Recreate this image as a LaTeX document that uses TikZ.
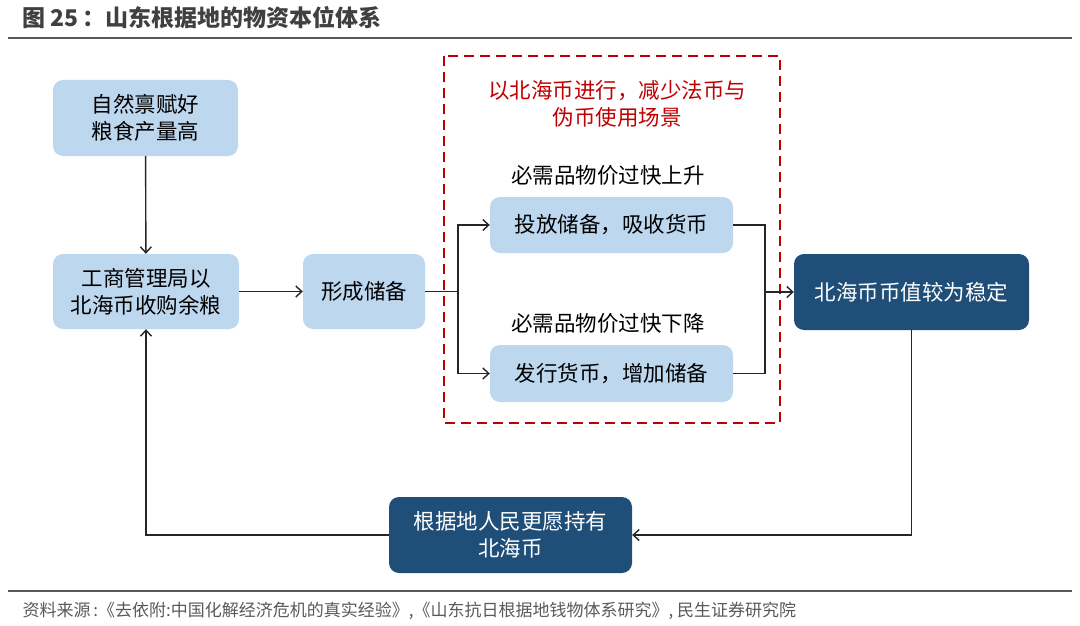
\documentclass[tikz,border=0pt]{standalone}
\usepackage{fontspec}
\setmainfont{Noto Sans CJK SC}
\usetikzlibrary{arrows.meta}

\definecolor{lightblue}{HTML}{BDD7EE}
\definecolor{darkblue}{HTML}{1F4E79}
\definecolor{framered}{HTML}{C00000}
\definecolor{linegray}{HTML}{262626}
\definecolor{titlegray}{HTML}{404040}
\definecolor{notegray}{HTML}{595959}

\begin{document}
\begin{tikzpicture}[x=1pt,y=-1pt,
    boxtext/.style={font=\fontsize{21.5}{27}\selectfont, align=center},
    lightbox/.style={boxtext, fill=lightblue, rounded corners=10pt, inner sep=0pt, text=black},
    darkbox/.style={boxtext, fill=darkblue, rounded corners=10pt, inner sep=0pt, text=white},
    link/.style={draw=linegray, line width=1.4pt},
    arrow/.style={link, -{Straight Barb[length=6pt,width=11pt]}}]
    \useasboundingbox (0,0) rectangle (1080,626);
    % title and rules
    \node[anchor=west, text=titlegray, font=\fontsize{23}{26}\selectfont\bfseries] (title) at (19,18) {图 25\,：山东根据地的物资本位体系};
    \draw[notegray, line width=2.5pt] (8,38) -- (1072,38);
    \draw[notegray, line width=2.5pt] (8,591) -- (1072,591);
    \node[anchor=west, text=notegray, font=\fontsize{17}{20}\selectfont] (source) at (19,611) {资料来源\,:《去依附:中国化解经济危机的真实经验》,《山东抗日根据地钱物体系研究》, 民生证券研究院};
    % red frame
    \draw[framered, line width=2.8pt, dash pattern=on 10pt off 6pt] (444,56) rectangle (780,423);
    \node[boxtext, text=framered] (notice) at (617,103.5) {以北海币进行，减少法币与\\伪币使用场景};
    % boxes
    \node[lightbox, minimum width=185pt, minimum height=76pt] (nature) at (145.5,118) {自然禀赋好\\粮食产量高};
    \node[lightbox, minimum width=186pt, minimum height=75pt] (buy) at (146,291.5) {工商管理局以\\北海币收购余粮};
    \node[lightbox, minimum width=122pt, minimum height=75pt] (store) at (364,291.5) {形成储备};
    \node[boxtext] (rise) at (608,175) {必需品物价过快上升};
    \node[lightbox, minimum width=243pt, minimum height=56pt] (release) at (611.5,225) {投放储备，吸收货币};
    \node[boxtext] (fall) at (608,323) {必需品物价过快下降};
    \node[lightbox, minimum width=243pt, minimum height=57pt] (issue) at (611.5,373.5) {发行货币，增加储备};
    \node[darkbox, minimum width=235pt, minimum height=76pt] (stable) at (911.5,292) {北海币币值较为稳定};
    \node[darkbox, minimum width=243pt, minimum height=76pt] (prefer) at (510.5,535) {根据地人民更愿持有\\北海币};
    % connectors
    \coordinate (split) at (458,291.5);
    \coordinate (merge) at (765,292);
    \draw[arrow] (nature) -- (buy);
    \draw[arrow] (buy) -- (store);
    \draw[link] (store.east) -- (split);
    \draw[arrow] (split) |- (release.west);
    \draw[arrow] (split) |- (issue.west);
    \draw[link] (release.east) -| (merge);
    \draw[link] (issue.east) -| (merge);
    \draw[arrow] (merge) -- (stable.west);
    \draw[arrow] (stable.south) |- (prefer.east);
    \draw[arrow] (prefer.west) -| (buy.south);
\end{tikzpicture}
\end{document}
